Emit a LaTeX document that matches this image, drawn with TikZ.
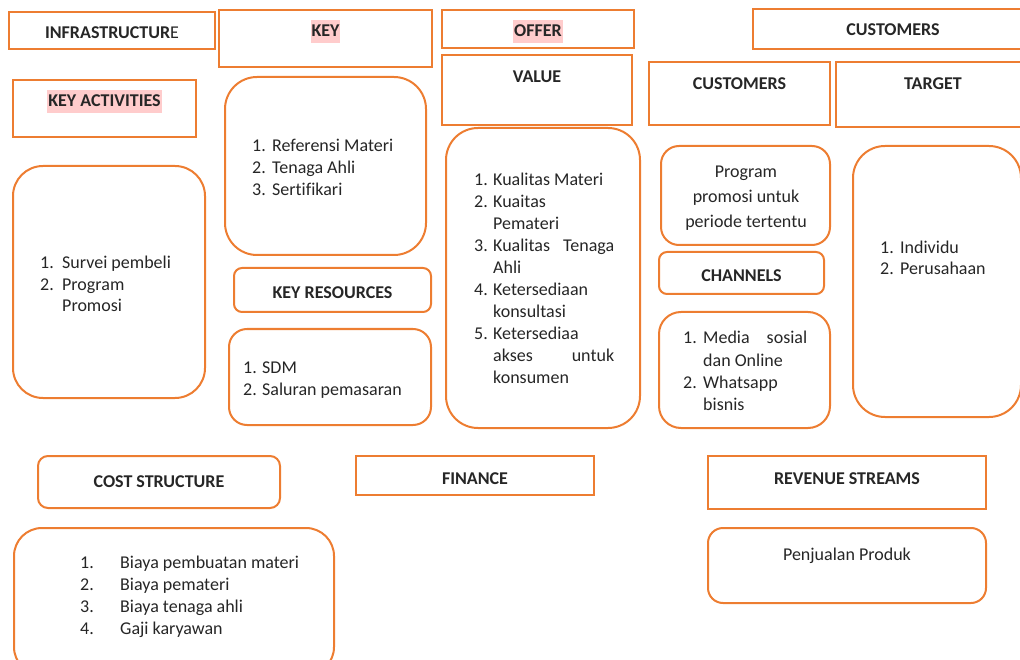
\documentclass[tikz,border=0pt]{standalone}
\usepackage{fontspec}
\setmainfont{Carlito}[Ligatures=NoCommon]
\definecolor{acc}{HTML}{ED7D31}
\definecolor{hl}{HTML}{FFCCCC}
\definecolor{ink}{HTML}{262626}
\newcommand\numitem[3][20pt]{\makebox[#1][l]{#2}#3}
\newcommand\contline[2][20pt]{\hspace*{#1}#2}
\tikzset{
  box/.style={draw=acc, line width=2pt},
  rbox/.style={draw=acc, line width=2pt, rounded corners=#1},
  rbox/.default=20pt,
  hd/.style={font=\fontsize{18}{22}\selectfont\bfseries, anchor=base, inner sep=0pt, text=ink},
  hlhd/.style={hd, fill=hl, text height=17pt, text depth=6pt, inner xsep=1pt, inner ysep=0pt},
  body/.style={font=\fontsize{18}{22}\selectfont, anchor=base west, inner sep=0pt, text=ink},
  bodyc/.style={body, anchor=base},
}
\begin{document}
\begin{tikzpicture}[x=1pt, y=-1pt]
\useasboundingbox (0,0) rectangle (1020,660);
% top headers
\draw[box] (9,12) rectangle (215,49);
\node[hd] (infra) at (112,39) {INFRASTRUCTUR\textmd{E}};
\draw[box] (219,10) rectangle (432,67);
\node[hlhd] (key) at (325.5,37) {KEY};
\draw[box] (442,10) rectangle (634,48);
\node[hlhd] (offer) at (538,37) {OFFER};
\draw[box] (753,9) rectangle (1034,49);
\node[hd] (cust1) at (893,36) {CUSTOMERS};
\draw[box] (442,55) rectangle (632,125);
\node[hd] (value) at (537,83) {VALUE};
\draw[box] (649,62) rectangle (830,125);
\node[hd] (cust2) at (739.5,90) {CUSTOMERS};
\draw[box] (836,62) rectangle (1030,127);
\node[hd] (target) at (933,90) {TARGET};
\draw[box] (13,80) rectangle (196,137);
\node[hlhd] (keyact) at (104.5,107) {KEY ACTIVITIES};
% key partners content
\draw[rbox=32pt] (225,77) rectangle (426,255);
\node[body] (kplist) at (252,152) {\begin{tabular}[t]{@{}l@{}}
\numitem{1.}{Referensi Materi}\\
\numitem{2.}{Tenaga Ahli}\\
\numitem{3.}{Sertifikari}
\end{tabular}};
% key resources
\draw[rbox=8pt] (234,268) rectangle (431,312);
\node[hd] (keyres) at (332.5,299) {KEY RESOURCES};
\draw[rbox=18pt] (229,329) rectangle (431,425);
\node[body] (reslist) at (243,373) {\begin{tabular}[t]{@{}l@{}}
\numitem[19pt]{1.}{SDM}\\
\numitem[19pt]{2.}{Saluran pemasaran}
\end{tabular}};
% key activities content
\draw[rbox=30pt] (13,166) rectangle (205,398);
\node[body, font=\fontsize{18}{21.5}\selectfont] (actlist) at (40,269) {\begin{tabular}[t]{@{}l@{}}
\numitem[22pt]{1.}{Survei pembeli}\\
\numitem[22pt]{2.}{Program}\\
\contline[22pt]{Promosi}
\end{tabular}};
% value content
\draw[rbox=32pt] (446,128) rectangle (640,428);
\node[body] (vallist) at (474,186) {\begin{tabular}[t]{@{}l@{}}
\numitem[19pt]{1.}{Kualitas Materi}\\
\numitem[19pt]{2.}{Kuaitas}\\
\contline[19pt]{Pemateri}\\
\numitem[19pt]{3.}{\makebox[121pt][s]{Kualitas Tenaga}}\\
\contline[19pt]{Ahli}\\
\numitem[19pt]{4.}{Ketersediaan}\\
\contline[19pt]{konsultasi}\\
\numitem[19pt]{5.}{Ketersediaa}\\
\contline[19pt]{\makebox[121pt][s]{akses untuk}}\\
\contline[19pt]{konsumen}
\end{tabular}};
% customer relationship
\draw[rbox=18pt] (661,146) rectangle (830,245);
\node[bodyc, font=\fontsize{18}{25}\selectfont] (custrel) at (746,178) {\begin{tabular}[t]{@{}c@{}}
Program\\ promosi untuk\\ periode tertentu
\end{tabular}};
% channels
\draw[rbox=8pt] (659,252) rectangle (824,294);
\node[hd] (channels) at (741.5,282) {CHANNELS};
\draw[rbox=22pt] (659,312) rectangle (830,428);
\node[body, font=\fontsize{18}{22.3}\selectfont] (chlist) at (683,344) {\begin{tabular}[t]{@{}l@{}}
\numitem{1.}{\makebox[104pt][s]{Media sosial}}\\
\contline{dan Online}\\
\numitem{2.}{Whatsapp}\\
\contline{bisnis}
\end{tabular}};
% target content
\draw[rbox=32pt] (853,146) rectangle (1021,417);
\node[body, font=\fontsize{18}{21}\selectfont] (tglist) at (880,254) {\begin{tabular}[t]{@{}l@{}}
\numitem{1.}{Individu}\\
\numitem{2.}{Perusahaan}
\end{tabular}};
% cost structure
\draw[rbox=10pt] (38,456) rectangle (280,508);
\node[hd] (cost) at (159,487) {COST STRUCTURE};
\draw[rbox=28pt] (14,528) rectangle (334,675);
\node[body, font=\fontsize{18}{22.3}\selectfont] (costlist) at (80,568) {\begin{tabular}[t]{@{}l@{}}
\numitem[40pt]{1.}{Biaya pembuatan materi}\\
\numitem[40pt]{2.}{Biaya pemateri}\\
\numitem[40pt]{3.}{Biaya tenaga ahli}\\
\numitem[40pt]{4.}{Gaji karyawan}
\end{tabular}};
% finance
\draw[box] (356,456) rectangle (594,495);
\node[hd] (finance) at (475,484) {FINANCE};
% revenue
\draw[box] (708,456) rectangle (986,509);
\node[hd] (revenue) at (847,484) {REVENUE STREAMS};
\draw[rbox=15pt] (708,528) rectangle (986,603);
\node[bodyc] (revtext) at (847,560) {Penjualan Produk};
\end{tikzpicture}
\end{document}
